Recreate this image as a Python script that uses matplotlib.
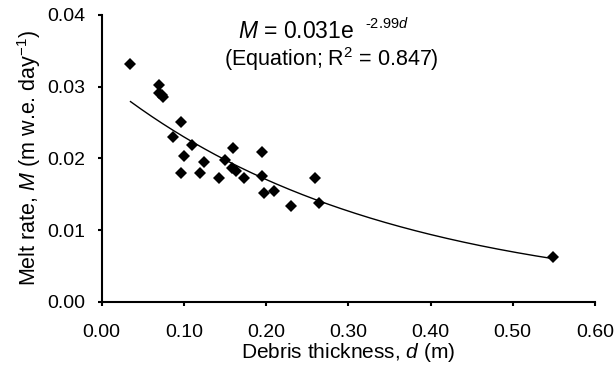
import numpy as np
import matplotlib
matplotlib.use('Agg')
from matplotlib import pyplot as plt

plt.rcParams['font.family'] = 'Liberation Sans'
plt.rcParams['mathtext.fontset'] = 'custom'
plt.rcParams['mathtext.rm'] = 'Liberation Sans'
plt.rcParams['mathtext.it'] = 'Liberation Sans:italic'

# Debris thickness (m) and melt rate (m w.e. per day)
thickness = [0.035, 0.070, 0.070, 0.073, 0.075, 0.0965, 0.087, 0.110, 0.100,
             0.0965, 0.124, 0.120, 0.160, 0.150, 0.143, 0.158, 0.163, 0.173,
             0.195, 0.195, 0.197, 0.210, 0.230, 0.260, 0.264, 0.549]
melt = [0.0331, 0.0303, 0.0291, 0.0289, 0.0285, 0.0251, 0.0230, 0.0218, 0.0203,
        0.0180, 0.0195, 0.0180, 0.0214, 0.0197, 0.0173, 0.0187, 0.0183, 0.0173,
        0.0209, 0.0176, 0.0152, 0.0155, 0.0134, 0.0173, 0.0137, 0.0062]

# fitted curve M = a * exp(b * d)
fit_a = 0.031
fit_b = -2.99

fig = plt.figure(figsize=(6.15, 3.7), dpi=100)
ax = fig.add_axes([0.1654, 0.1846, 0.8019, 0.7749])

d = np.linspace(min(thickness), max(thickness), 200)
ax.plot(d, fit_a * np.exp(fit_b * d), color='black', lw=1)
ax.plot(thickness, melt, 'D', color='black', ms=6, mew=0)

ax.set_xlim(0, 0.6)
ax.set_ylim(0, 0.04)
ax.set_xticks(np.arange(0, 0.61, 0.1))
ax.set_yticks(np.arange(0, 0.041, 0.01))
ax.xaxis.set_major_formatter(matplotlib.ticker.FormatStrFormatter('%.2f'))
ax.yaxis.set_major_formatter(matplotlib.ticker.FormatStrFormatter('%.2f'))
ax.spines['top'].set_visible(False)
ax.spines['right'].set_visible(False)
ax.spines['left'].set_linewidth(1.5)
ax.spines['bottom'].set_linewidth(1.5)
ax.tick_params(direction='out', length=3, width=1.5, labelsize=14)
ax.tick_params(axis='x', pad=13)
ax.tick_params(axis='y', pad=9)

ax.set_xlabel('Debris thickness, $d$ (m)', fontsize=15, labelpad=0)
ax.set_ylabel('Melt rate, $M$ (m w.e. day$^{-1}$)', fontsize=15.5, labelpad=3)

# fitted equation, written in two pieces so the exponent stays small
ax.text(0.1658, 0.03679, '$M$ = 0.031e', fontsize=16.5, ha='left', va='baseline')
ax.text(0.3203, 0.03821, '-2.99$d$', fontsize=10.5, ha='left', va='baseline')
ax.text(0.279, 0.03289, '(Equation; R$^2$ = 0.847)', fontsize=15.5,
        ha='center', va='baseline')

fig.savefig('out.png', dpi=100)
